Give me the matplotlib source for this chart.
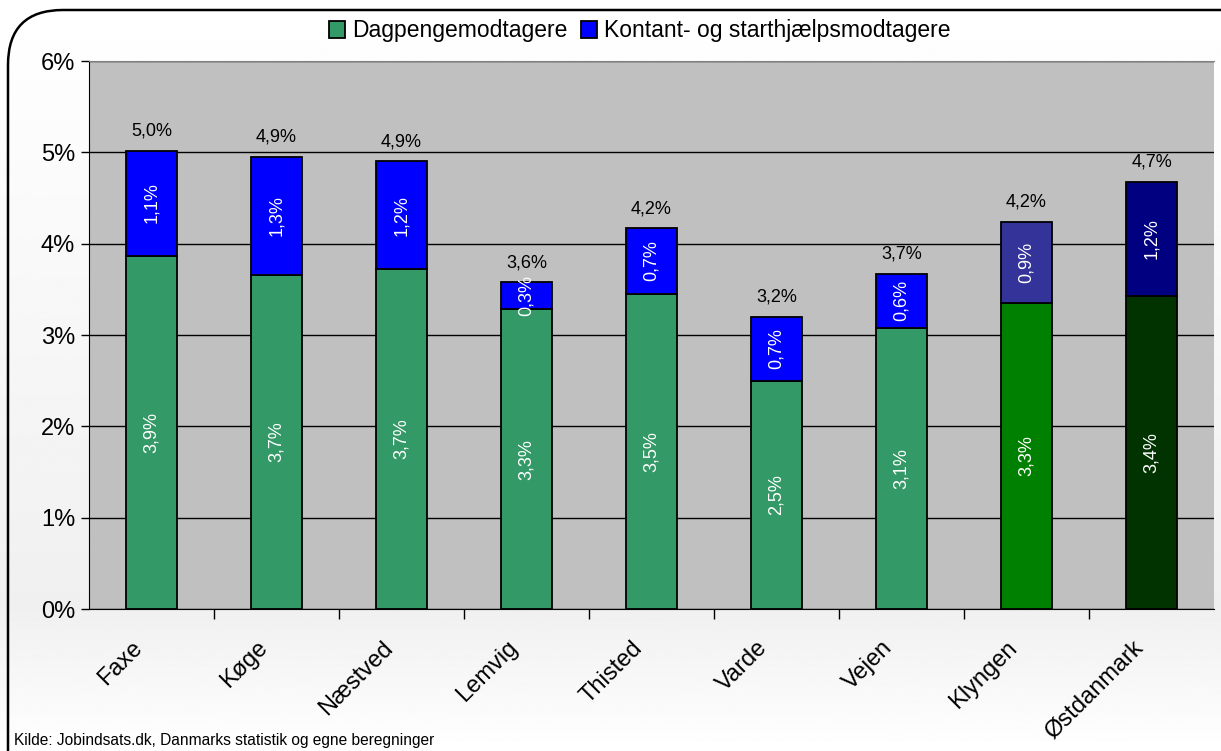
import matplotlib.pyplot as plt
import numpy as np
from matplotlib.patches import FancyBboxPatch
from matplotlib.transforms import ScaledTranslation

# data (shares of the labour force, %)
kommuner = ["Faxe", "Køge", "Næstved", "Lemvig", "Thisted", "Varde", "Vejen", "Klyngen", "Østdanmark"]
dagpenge = [3.87, 3.66, 3.72, 3.28, 3.45, 2.50, 3.08, 3.35, 3.43]
kontant = [1.15, 1.29, 1.18, 0.30, 0.72, 0.70, 0.59, 0.89, 1.25]
dag_labels = ["3,9%", "3,7%", "3,7%", "3,3%", "3,5%", "2,5%", "3,1%", "3,3%", "3,4%"]
kon_labels = ["1,1%", "1,3%", "1,2%", "0,3%", "0,7%", "0,7%", "0,6%", "0,9%", "1,2%"]
tot_labels = ["5,0%", "4,9%", "4,9%", "3,6%", "4,2%", "3,2%", "3,7%", "4,2%", "4,7%"]
yticks = [0, 1, 2, 3, 4, 5, 6]

green = ["#339966"] * 7 + ["#008000", "#003300"]
blue = ["#0000FF"] * 7 + ["#333399", "#000080"]

plt.rcParams['font.family'] = ['Liberation Sans', 'DejaVu Sans']
narrow = ['Liberation Sans Narrow', 'Liberation Sans', 'DejaVu Sans']

fig = plt.figure(figsize=(12.21, 7.51), dpi=100)

# background gradient + rounded frame
bg = fig.add_axes([0, 0, 1, 1], zorder=-5)
bg.set_axis_off()
yy = np.linspace(0, 1, 300)
shade = np.interp(yy, [0, 0.19, 1], [1.0, 0.94, 1.0])
img = np.tile(shade[:, None], (1, 2))
bg.imshow(img, cmap="gray", vmin=0, vmax=1, aspect="auto", extent=[0, 1, 0, 1], origin="lower")
bg.set_xlim(0, 1)
bg.set_ylim(0, 1)
frame = FancyBboxPatch((8 / 1221, -0.1), 1.05, 0.1 + (751 - 10) / 751,
                       boxstyle="round,pad=0,rounding_size=0.045",
                       fc="none", ec="black", lw=1.8, transform=bg.transAxes,
                       mutation_aspect=1221 / 751)
bg.add_patch(frame)

ax = fig.add_axes([89 / 1221, 1 - 609 / 751, (1214 - 89) / 1221, (609 - 61) / 751])
ax.set_facecolor("#C0C0C0")
x = np.arange(len(kommuner))
w = 0.415
b1 = ax.bar(x, dagpenge, w, color=green, edgecolor="black", lw=1.3, zorder=3)
b2 = ax.bar(x, kontant, w, bottom=dagpenge, color=blue, edgecolor="black", lw=1.3, zorder=3)

for i in range(len(kommuner)):
    ax.text(x[i], dagpenge[i] / 2, dag_labels[i], rotation=90, ha="center", va="center",
            color="white", fontsize=13, family=narrow, zorder=4)
    ax.text(x[i], dagpenge[i] + kontant[i] / 2, kon_labels[i], rotation=90, ha="center",
            va="center", color="white", fontsize=13, family=narrow, zorder=4)
    ax.text(x[i], dagpenge[i] + kontant[i] + 0.12, tot_labels[i], ha="center", va="bottom",
            color="black", fontsize=13, family=narrow, zorder=4)

ax.set_xlim(-0.5, len(kommuner) - 0.5)
ax.set_ylim(0, 6)
ax.set_yticks(yticks)
ax.set_yticklabels([f"{t}%" for t in yticks], fontsize=17)
ax.yaxis.grid(True, color="black", lw=1.0, zorder=1)
ax.set_axisbelow(True)
ax.set_xticks(x)
ax.set_xticklabels(kommuner, rotation=45, ha="right", rotation_mode="anchor", fontsize=17)
ax.tick_params(axis="x", length=0, pad=10)
shift = ScaledTranslation(-0.2, -0.14, fig.dpi_scale_trans)
for lab in ax.get_xticklabels():
    lab.set_transform(lab.get_transform() + shift)
ax.set_xticks(np.arange(0.5, len(kommuner) - 0.5), minor=True)
ax.tick_params(axis="x", which="minor", length=7, direction="out", width=1)
ax.tick_params(axis="y", length=6, width=1, pad=4)
ax.spines["top"].set_color("#808080")
ax.spines["right"].set_visible(False)
ax.spines["left"].set_color("black")
ax.spines["bottom"].set_color("black")

leg = fig.legend([b1, b2], ["Dagpengemodtagere", "Kontant- og starthjælpsmodtagere"],
                 loc="center", bbox_to_anchor=(640 / 1221, 1 - 31 / 751), ncol=2,
                 frameon=False, fontsize=16.5, handlelength=0.7, handleheight=0.7,
                 handletextpad=0.3, columnspacing=0.6, borderpad=0)

fig.text(14 / 1221, 1 - 741 / 751, "Kilde: Jobindsats.dk, Danmarks statistik og egne beregninger",
         fontsize=11.2, ha="left", va="center")

fig.savefig("out.png", dpi=100)
